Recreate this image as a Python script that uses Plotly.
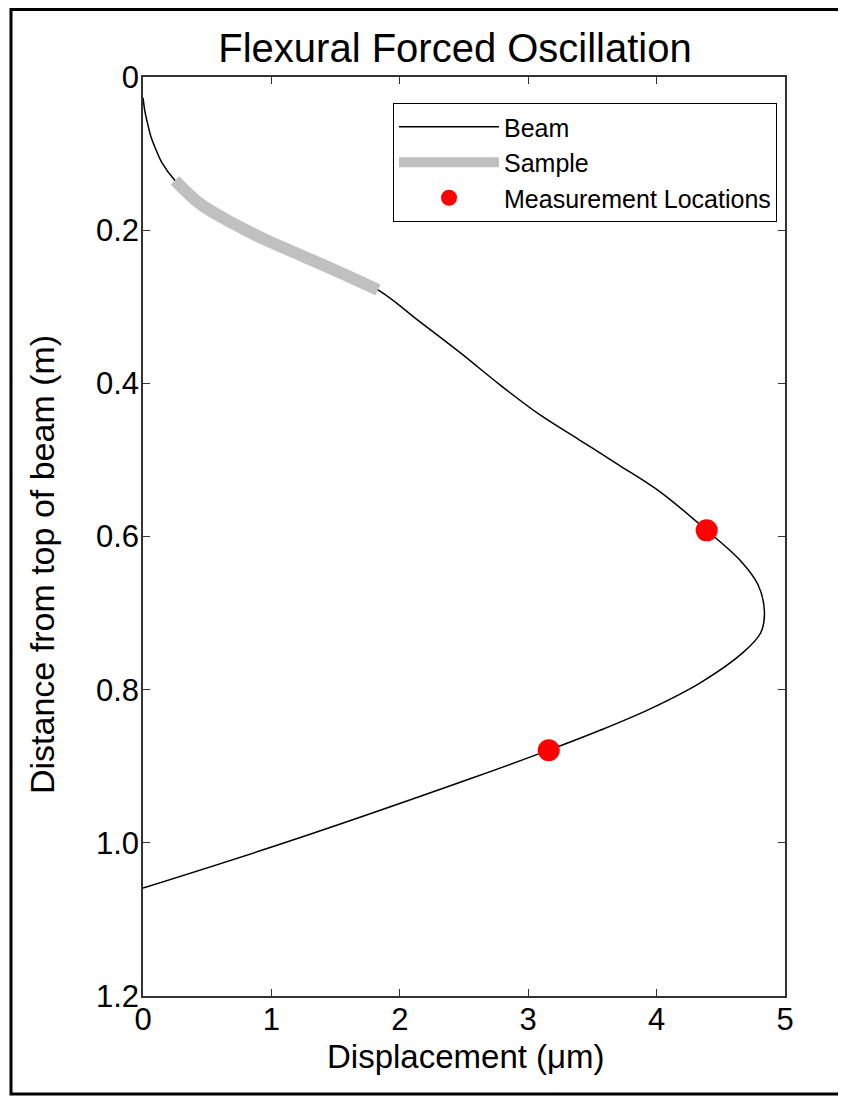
import plotly.graph_objects as go

# Beam deflection shape (displacement in um, distance from top in m)
beam_x = [0.000, 0.016, 0.039, 0.062, 0.101, 0.148, 0.249, 0.44, 0.70, 0.96, 1.22, 1.53, 1.83,
          2.16, 2.47, 2.78, 3.09, 3.40, 3.71, 4.03, 4.39, 4.65, 4.79, 4.84, 4.81, 4.67, 4.34,
          3.95, 3.56, 3.16, 2.52, 1.12, 0.000]
beam_y = [0.027, 0.046, 0.063, 0.078, 0.095, 0.112, 0.135, 0.165, 0.191, 0.213, 0.232, 0.255,
          0.278, 0.320, 0.360, 0.402, 0.441, 0.474, 0.507, 0.542, 0.592, 0.631, 0.663, 0.699,
          0.726, 0.752, 0.791, 0.825, 0.853, 0.879, 0.918, 0.999, 1.059]

# Sample segment
sample_x = [0.249, 0.44, 0.70, 0.96, 1.22, 1.53, 1.83]
sample_y = [0.135, 0.165, 0.191, 0.213, 0.232, 0.255, 0.278]

# Measurement locations
meas_x = [4.39, 3.16]
meas_y = [0.592, 0.879]

x_ticks = [0, 1, 2, 3, 4, 5]
y_ticks = [0, 0.2, 0.4, 0.6, 0.8, 1.0, 1.2]
y_tick_text = ["0", "0.2", "0.4", "0.6", "0.8", "1.0", "1.2"]

FONT = "Liberation Sans, Arial, sans-serif"

fig = go.Figure()
fig.add_trace(go.Scatter(x=beam_x, y=beam_y, mode="lines", name="Beam",
                         line=dict(color="black", width=1.5, shape="spline", smoothing=1.0)))
fig.add_trace(go.Scatter(x=sample_x, y=sample_y, mode="lines", name="Sample",
                         line=dict(color="#c0c0c0", width=12, shape="spline", smoothing=1.0)))
fig.add_trace(go.Scatter(x=meas_x, y=meas_y, mode="markers", name="Measurement Locations",
                         marker=dict(color="#ff0000", size=22)))

# page body has an 8px margin: work in page pixels, shift by OFF
OFF = 8
W, H = 846 - OFF, 1099 - OFF
L, T = 143 - OFF, 77 - OFF
R = W - (785 - OFF)
B = H - (996 - OFF)
pw, ph = W - L - R, H - T - B


def px_x(p):
    return (p - OFF - L) / pw


def px_y(p):
    return (H - B - (p - OFF)) / ph


fig.update_layout(
    width=W, height=H,
    margin=dict(l=L, r=R, t=T, b=B, autoexpand=False),
    paper_bgcolor="white", plot_bgcolor="white",
    font=dict(family=FONT, color="black"),
    title=dict(text="Flexural Forced Oscillation", font=dict(size=40, family=FONT),
               x=(455 - OFF) / W, xanchor="center", y=1 - (48 - OFF) / H, yanchor="middle",
               yref="container"),
    showlegend=True,
    legend=dict(x=px_x(777), y=px_y(103), xanchor="right", yanchor="top",
                bordercolor="black", borderwidth=1, bgcolor="white",
                font=dict(size=25, family=FONT), itemwidth=100,
                tracegroupgap=0),
    xaxis=dict(range=[0, 5], tickvals=x_ticks, ticks="inside", ticklen=7, tickcolor="#333",
               showline=True, linecolor="#333", linewidth=1.5, mirror="ticks",
               showgrid=False, zeroline=False, tickfont=dict(size=31),
               ticklabelstandoff=-5),
    yaxis=dict(range=[1.2, 0], tickvals=y_ticks, ticktext=y_tick_text, ticks="inside",
               ticklen=7, tickcolor="#333",
               showline=True, linecolor="#333", linewidth=1.5, mirror="ticks",
               showgrid=False, zeroline=False, tickfont=dict(size=31),
               ticklabelstandoff=-4),
    annotations=[
        dict(text="Displacement (μm)", xref="paper", yref="paper",
             x=px_x(466), y=px_y(1056), xanchor="center", yanchor="middle",
             showarrow=False, font=dict(size=33, family=FONT)),
        dict(text="Distance from top of beam (m)", xref="paper", yref="paper",
             x=px_x(42), y=px_y(565), xanchor="center", yanchor="middle",
             textangle=-90, showarrow=False, font=dict(size=34, family=FONT)),
    ],
    shapes=[dict(type="rect", xref="paper", yref="paper",
                 x0=px_x(11), x1=px_x(840), y0=px_y(1094), y1=px_y(9.5),
                 line=dict(color="black", width=3), fillcolor="rgba(0,0,0,0)", layer="below")],
)

fig.write_html("out.html")
